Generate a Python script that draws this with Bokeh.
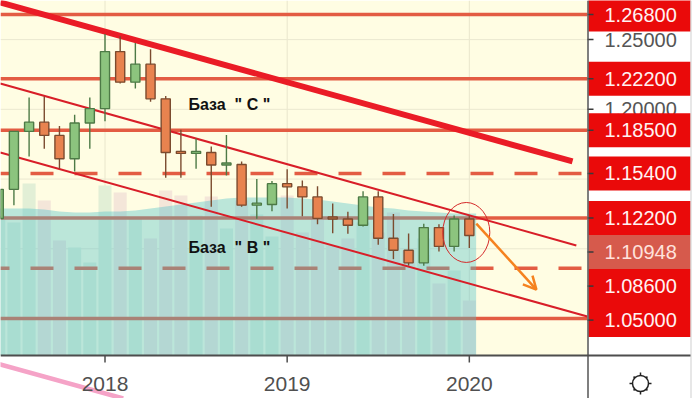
from bokeh.plotting import figure
from bokeh.models import Range1d, Arrow, OpenHead
from bokeh.core.properties import value
from bokeh.embed import file_html
from bokeh.resources import INLINE

# ---------------- data: EUR/USD, monthly ----------------
months = ["2017-06", "2017-07", "2017-08", "2017-09", "2017-10", "2017-11", "2017-12",
          "2018-01", "2018-02", "2018-03", "2018-04", "2018-05", "2018-06", "2018-07",
          "2018-08", "2018-09", "2018-10", "2018-11", "2018-12", "2019-01", "2019-02",
          "2019-03", "2019-04", "2019-05", "2019-06", "2019-07", "2019-08", "2019-09",
          "2019-10", "2019-11", "2019-12", "2020-01"]
opens = [1.1217, 1.1426, 1.1842, 1.1908, 1.1813, 1.1646, 1.1902,
         1.2005, 1.2414, 1.2195, 1.2324, 1.2075, 1.1690, 1.1684,
         1.1690, 1.1601, 1.1604, 1.1313, 1.1317, 1.1467, 1.1444,
         1.1372, 1.1218, 1.1214, 1.1169, 1.1372, 1.1076, 1.0989,
         1.0899, 1.1152, 1.1017, 1.1213]
highs = [1.1445, 1.1845, 1.2085, 1.2092, 1.1880, 1.1961, 1.2085,
         1.2540, 1.2524, 1.2476, 1.2430, 1.2095, 1.1853, 1.1791,
         1.1733, 1.1815, 1.1625, 1.1500, 1.1486, 1.1570, 1.1489,
         1.1448, 1.1324, 1.1265, 1.1412, 1.1412, 1.1250, 1.1109,
         1.1179, 1.1175, 1.1239, 1.1239]
lows = [1.1119, 1.1312, 1.1662, 1.1717, 1.1574, 1.1554, 1.1718,
        1.1915, 1.2185, 1.2150, 1.2055, 1.1510, 1.1509, 1.1573,
        1.1301, 1.1526, 1.1302, 1.1216, 1.1269, 1.1289, 1.1234,
        1.1176, 1.1111, 1.1107, 1.1160, 1.1028, 1.0926, 1.0879,
        1.0879, 1.0981, 1.0981, 1.1005]
closes = [1.1426, 1.1842, 1.1908, 1.1813, 1.1646, 1.1902, 1.2005,
          1.2414, 1.2195, 1.2324, 1.2075, 1.1690, 1.1684, 1.1690,
          1.1601, 1.1604, 1.1313, 1.1317, 1.1467, 1.1444, 1.1372,
          1.1218, 1.1214, 1.1169, 1.1372, 1.1076, 1.0989, 1.0899,
          1.1152, 1.1017, 1.1213, 1.10948]
volumes = [1400, 1330, 1720, 1550, 1150, 1080, 930,
           1700, 1630, 1370, 1170, 1650, 1600, 1400,
           1590, 1270, 1550, 1410, 1190, 1600, 1230,
           1370, 1100, 1170, 1330, 1230, 1430, 1050,
           1170, 720, 850, 550]
volume_avg = [1470, 1470, 1470, 1460, 1440, 1430, 1430,
              1440, 1440, 1450, 1470, 1490, 1510, 1530,
              1550, 1570, 1580, 1580, 1580, 1580, 1570,
              1560, 1540, 1520, 1500, 1480, 1470, 1450,
              1440, 1430, 1420, 1420]
osc_months = [-7, 1.2]
osc_values = [80, 0]

levels_solid = [1.268, 1.222, 1.185, 1.122, 1.05]
levels_dashed = [1.154, 1.086]
last_price = 1.10948
price_grid = [1.25, 1.20, 1.15, 1.10, 1.05]
year_labels = ["2018", "2019", "2020"]
year_months = [0, 12, 24]

# trend lines as (month index, price) anchor pairs
resistance_x, resistance_y = [-6.9, 30.8], [1.2766, 1.1626]
channel_up_x, channel_up_y = [-6.9, 31.05], [1.2185, 1.1024]
channel_lo_x, channel_lo_y = [-6.9, 31.78], [1.1690, 1.0514]

NB = "\u00a0"
base_texts = [f'База{NB}{NB}"{NB}C{NB}"', f'База{NB}{NB}"{NB}B{NB}"']
base_x = [5.5, 5.5]
base_y = [1.2036, 1.1006]

focus_x, focus_y, focus_w, focus_h = 23.8, 1.1117, 3.1, 0.043
target_x0, target_y0, target_x1, target_y1 = 24.46, 1.1181, 28.42, 1.0707

# ---------------- screen geometry ----------------
W, H = 693, 398
CHART_R, CHART_B = 587, 355
PX_MONTH = 15.18
X0_PX = 104.5
PRICE_PX = 1394.5
REF_P, REF_PX = 1.268, 14.0
VOL_PER_PX = 10.0


def mx(px):
    return (px - X0_PX) / PX_MONTH


def py(pix):
    return REF_P - (pix - REF_PX) / PRICE_PX


idx = [(int(s[:4]) - 2018) * 12 + int(s[5:]) - 1 for s in months]
up = [c >= o for o, c in zip(opens, closes)]

p = figure(width=W, height=H, x_range=Range1d(mx(0), mx(W)), y_range=Range1d(py(H), py(0)),
           output_backend="svg", toolbar_location=None, min_border=0,
           x_axis_location=None, y_axis_location=None,
           background_fill_color="white", border_fill_color="white", outline_line_color=None)
p.grid.visible = False
p.extra_y_ranges = {
    "vol": Range1d(-(H - CHART_B) * VOL_PER_PX, CHART_B * VOL_PER_PX),
    "osc": Range1d(0, 100.0 * H / (H - CHART_B)),
}

# chart background and grid
p.quad(left=mx(0), right=mx(CHART_R), bottom=py(CHART_B), top=py(0),
       fill_color="#fffde3", line_color=None)
p.segment(x0=year_months, x1=year_months, y0=[py(CHART_B)] * 3, y1=[py(0)] * 3,
          line_color="#e9e6cc", line_width=1)
p.segment(x0=[mx(0)] * len(price_grid), x1=[mx(CHART_R)] * len(price_grid),
          y0=price_grid, y1=price_grid, line_color="#ebe8d0", line_width=1)

# volume columns
p.vbar(x=idx, top=volumes, bottom=0, width=0.86, y_range_name="vol",
       fill_color=["#e2efd6" if u else "#f4e6d9" for u in up], line_color=None)

# horizontal levels
p.segment(x0=[mx(0)] * len(levels_solid), x1=[mx(CHART_R)] * len(levels_solid),
          y0=levels_solid, y1=levels_solid, line_color="#e35c43", line_width=3.5)
p.segment(x0=[mx(0)] * len(levels_dashed), x1=[mx(CHART_R)] * len(levels_dashed),
          y0=levels_dashed, y1=levels_dashed, line_color="#e35c43", line_width=3.5,
          line_dash="23 21", line_dash_offset=14)

# volume average area
area_x = idx + [idx[-1] + 0.45]
area_y = volume_avg + [volume_avg[-1]]
p.varea(x=area_x, y1=[0] * len(area_x), y2=area_y, y_range_name="vol",
        fill_color="#4cbfcb", fill_alpha=0.38)

# trend channel
p.line(channel_up_x, channel_up_y, line_color="#d81e28", line_width=2)
p.line(channel_lo_x, channel_lo_y, line_color="#d81e28", line_width=2)
p.line(resistance_x, resistance_y, line_color="#ea1c26", line_width=6)

# candles
edge = ["#4d7a46" if u else "#7b4b2f" for u in up]
fill = ["#8cc47e" if u else "#e8834f" for u in up]
p.segment(x0=idx, x1=idx, y0=lows, y1=highs, line_color=edge, line_width=1.4)
min_body = 2.0 / PRICE_PX
body_bot = [min(o, c) for o, c in zip(opens, closes)]
body_top = [max(max(o, c), b + min_body) for o, c, b in zip(opens, closes, body_bot)]
p.vbar(x=idx, top=body_top, bottom=body_bot, width=0.6, fill_color=fill,
       line_color=edge, line_width=1.4)

# annotations
p.text(x=base_x, y=base_y, text=base_texts, text_font=value("Liberation Sans"),
       text_font_style="bold", text_font_size="16px", text_color="#111111",
       text_baseline="middle", text_align="left")
p.ellipse(x=focus_x, y=focus_y, width=focus_w, height=focus_h, fill_color=None,
          line_color="#d42a2a", line_width=1)
p.add_layout(Arrow(end=OpenHead(size=13, line_color="#f5821f", line_width=2.5),
                   x_start=target_x0, y_start=target_y0, x_end=target_x1, y_end=target_y1,
                   line_color="#f5821f", line_width=2.5))

# bottom pane indicator
p.line(osc_months, osc_values, y_range_name="osc", line_color="#f5a3c7", line_width=4.5)

# price scale panel
p.quad(left=mx(CHART_R), right=mx(W), bottom=py(H), top=py(0), fill_color="white", line_color=None)

label_levels = sorted(levels_solid + levels_dashed + [last_price], reverse=True)
LABEL_H = 34.0 / PRICE_PX
label_pos = []
prev = None
for lv in label_levels:
    y = lv if prev is None else min(lv, prev - LABEL_H)
    label_pos.append(y)
    prev = y

grid_keep = [g for g in price_grid if all(abs(g - y) > LABEL_H / 2 for y in label_pos)]
p.text(x=[mx(604)] * len(grid_keep), y=grid_keep, text=[f"{g:.5f}" for g in grid_keep],
       text_font=value("Liberation Sans"), text_font_size="20px", text_color="#555555",
       text_baseline="middle", text_align="left")
p.segment(x0=[mx(CHART_R)] * len(grid_keep), x1=[mx(CHART_R + 6)] * len(grid_keep),
          y0=grid_keep, y1=grid_keep, line_color="#3a3a3a", line_width=1.5)

p.quad(left=mx(CHART_R + 1), right=mx(690),
       top=[y + LABEL_H / 2 for y in label_pos], bottom=[y - LABEL_H / 2 for y in label_pos],
       fill_color=["#d65a4c" if lv == last_price else "#ea0a0a" for lv in label_levels],
       line_color=None)
p.text(x=[mx(604)] * len(label_pos), y=label_pos, text=[f"{lv:.5f}" for lv in label_levels],
       text_font=value("Liberation Sans"), text_font_size="20px",
       text_color=["#ffe2dc" if lv == last_price else "#fff2f2" for lv in label_levels],
       text_baseline="middle", text_align="left")
p.segment(x0=[mx(CHART_R)] * len(label_pos), x1=[mx(CHART_R + 6)] * len(label_pos),
          y0=label_pos, y1=label_pos, line_color="#3a3a3a", line_width=1.5)

# frame lines and time scale
p.segment(x0=[mx(CHART_R + 0.5)], x1=[mx(CHART_R + 0.5)], y0=[py(0)], y1=[py(H)],
          line_color="#555555", line_width=1.5)
p.segment(x0=[mx(690.5)], x1=[mx(690.5)], y0=[py(0)], y1=[py(H)],
          line_color="#cfcfcf", line_width=1)
p.segment(x0=[mx(0)], x1=[mx(690)], y0=[py(CHART_B)], y1=[py(CHART_B)],
          line_color="#4d4d4d", line_width=2)
p.segment(x0=year_months, x1=year_months, y0=[py(CHART_B)] * 3, y1=[py(CHART_B + 7)] * 3,
          line_color="#4d4d4d", line_width=1.5)
p.text(x=year_months, y=[py(383)] * 3, text=year_labels, text_font=value("Liberation Sans"),
       text_font_size="21px", text_color="#505050", text_baseline="middle", text_align="center")

# settings icon
cx, cy, r0, r1, rd = 640, 383, 8.0, 11.0, 8.5
p.scatter(x=[mx(cx)], y=[py(cy)], marker="circle", size=16, fill_color=None,
          line_color="#222222", line_width=1.5)
dirs = [(1, 0), (-1, 0), (0, 1), (0, -1)]
p.segment(x0=[mx(cx + dx * r0) for dx, dy in dirs], x1=[mx(cx + dx * r1) for dx, dy in dirs],
          y0=[py(cy + dy * r0) for dx, dy in dirs], y1=[py(cy + dy * r1) for dx, dy in dirs],
          line_color="#222222", line_width=1.5)
diag = [(1, 1), (1, -1), (-1, 1), (-1, -1)]
p.scatter(x=[mx(cx + dx * rd * 0.72) for dx, dy in diag], y=[py(cy + dy * rd * 0.72) for dx, dy in diag],
          marker="square", size=2, fill_color="#222222", line_color=None)

open("out.html", "w").write(file_html(p, INLINE))
